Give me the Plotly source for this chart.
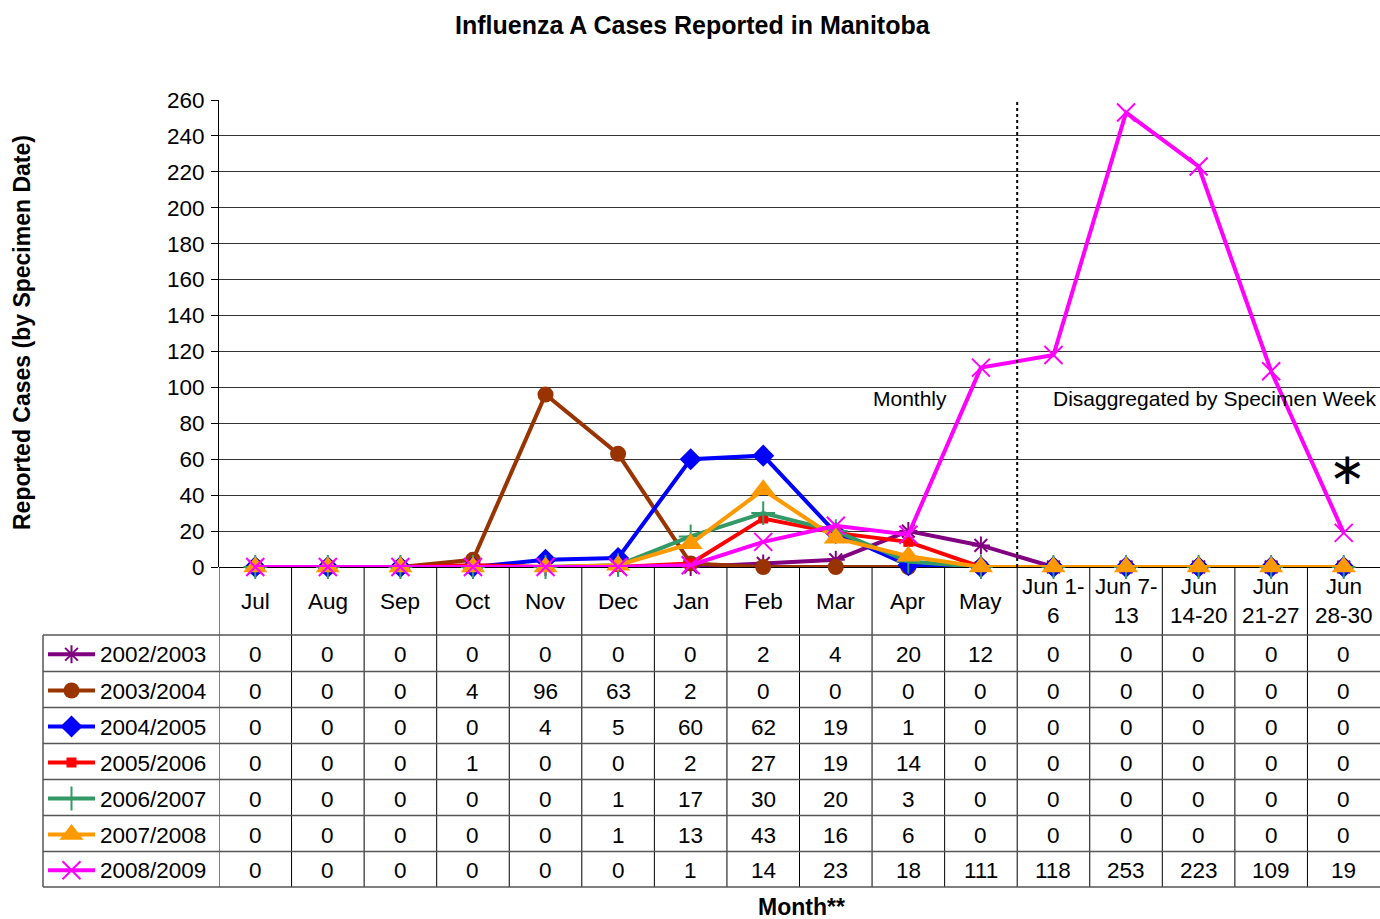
import plotly.graph_objects as go

W, H = 1380, 919

categories = ["Jul", "Aug", "Sep", "Oct", "Nov", "Dec", "Jan", "Feb", "Mar", "Apr", "May",
              "Jun 1-<br>6", "Jun 7-<br>13", "Jun<br>14-20", "Jun<br>21-27", "Jun<br>28-30"]

season_names = ["2002/2003", "2003/2004", "2004/2005", "2005/2006", "2006/2007", "2007/2008", "2008/2009"]

s2002 = [0, 0, 0, 0, 0, 0, 0, 2, 4, 20, 12, 0, 0, 0, 0, 0]
s2003 = [0, 0, 0, 4, 96, 63, 2, 0, 0, 0, 0, 0, 0, 0, 0, 0]
s2004 = [0, 0, 0, 0, 4, 5, 60, 62, 19, 1, 0, 0, 0, 0, 0, 0]
s2005 = [0, 0, 0, 1, 0, 0, 2, 27, 19, 14, 0, 0, 0, 0, 0, 0]
s2006 = [0, 0, 0, 0, 0, 1, 17, 30, 20, 3, 0, 0, 0, 0, 0, 0]
s2007 = [0, 0, 0, 0, 0, 1, 13, 43, 16, 6, 0, 0, 0, 0, 0, 0]
s2008 = [0, 0, 0, 0, 0, 0, 1, 14, 23, 18, 111, 118, 253, 223, 109, 19]

series = [s2002, s2003, s2004, s2005, s2006, s2007, s2008]

y_ticks = list(range(0, 261, 20))

styles = [
    dict(color="#800080", symbol="asterisk-open", size=15, lw=2),
    dict(color="#993300", symbol="circle", size=16, lw=0),
    dict(color="#0000FF", symbol="diamond", size=17, lw=0),
    dict(color="#FF0000", symbol="square", size=10, lw=0),
    dict(color="#339966", symbol="cross-thin-open", size=17, lw=2),
    dict(color="#FF9900", symbol="triangle-up", size=21, lw=0),
    dict(color="#FF00FF", symbol="x-thin-open", size=18, lw=2),
]

FONT = "Liberation Sans, Arial, sans-serif"
FS = 22.5


def py(pix):
    return (H - pix) / H


def px(pix):
    return pix / W


PLOT_L, PLOT_R, PLOT_T, PLOT_B = 219, 1380, 100, 567
TABLE_L = 43
ROW_LINES = [635, 671.5, 707.5, 743.5, 779.5, 815.5, 851.5, 887]

n = len(categories)
xs = list(range(n))

fig = go.Figure()

for name, vals, st in zip(season_names, series, styles):
    fig.add_trace(go.Scatter(
        x=xs, y=vals, mode="lines+markers", name=name,
        line=dict(color=st["color"], width=4),
        marker=dict(symbol=st["symbol"], size=st["size"], color=st["color"],
                    line=dict(color=st["color"], width=st["lw"])),
        showlegend=False, cliponaxis=False,
    ))

# legend keys in the table's label column (helper axis in pixel units of that column)
for i, (name, st) in enumerate(zip(season_names, styles)):
    yc = (ROW_LINES[i] + ROW_LINES[i + 1]) / 2 + 1
    fig.add_trace(go.Scatter(
        x=[48, 71.5, 95], y=[yc, yc, yc], mode="lines",
        line=dict(color=st["color"], width=4),
        xaxis="x2", yaxis="y2", showlegend=False, hoverinfo="skip", cliponaxis=False,
    ))
    fig.add_trace(go.Scatter(
        x=[71.5], y=[yc], mode="markers",
        marker=dict(symbol=st["symbol"], size=st["size"], color=st["color"],
                    line=dict(color=st["color"], width=st["lw"])),
        xaxis="x2", yaxis="y2", showlegend=False, hoverinfo="skip", cliponaxis=False,
    ))

shapes = []
annotations = []

# dotted separator between monthly and weekly data
shapes.append(dict(type="line", xref="x", yref="y", x0=10.5, x1=10.5, y0=0, y1=260,
                   line=dict(color="black", width=2, dash="dot")))

# table vertical lines
for k in range(n):
    shapes.append(dict(type="line", xref="x", yref="paper", x0=k - 0.5, x1=k - 0.5,
                       y0=py(PLOT_B), y1=py(ROW_LINES[-1]), line=dict(color="black", width=1)))
shapes.append(dict(type="line", xref="paper", yref="paper", x0=px(TABLE_L), x1=px(TABLE_L),
                   y0=py(ROW_LINES[0]), y1=py(ROW_LINES[-1]), line=dict(color="black", width=1)))
# table horizontal lines
for r in ROW_LINES:
    shapes.append(dict(type="line", xref="paper", yref="paper", x0=px(TABLE_L), x1=1,
                       y0=py(r), y1=py(r), line=dict(color="#555555", width=1.5)))

# header labels
for i, c in enumerate(categories):
    annotations.append(dict(xref="x", yref="paper", x=i, y=py(601), text=c, showarrow=False,
                            font=dict(family=FONT, size=FS, color="black"),
                            xanchor="center", yanchor="middle"))

# table cells and row labels
for r, (name, vals) in enumerate(zip(season_names, series)):
    yc = (ROW_LINES[r] + ROW_LINES[r + 1]) / 2 + 1.5
    annotations.append(dict(xref="paper", yref="paper", x=px(98), y=py(yc), text=name,
                            showarrow=False, font=dict(family=FONT, size=FS, color="black"),
                            xanchor="left", yanchor="middle"))
    for i, v in enumerate(vals):
        annotations.append(dict(xref="x", yref="paper", x=i, y=py(yc), text=str(v),
                                showarrow=False, font=dict(family=FONT, size=FS, color="black"),
                                xanchor="center", yanchor="middle"))

# titles
annotations.append(dict(xref="paper", yref="paper", x=px(693), y=py(25),
                        text="<b>Influenza A Cases Reported in Manitoba</b>", showarrow=False,
                        font=dict(family=FONT, size=25, color="black"),
                        xanchor="center", yanchor="middle"))
annotations.append(dict(xref="paper", yref="paper", x=px(22), y=py(333),
                        text="<b>Reported Cases (by Specimen Date)</b>", showarrow=False,
                        textangle=-90, font=dict(family=FONT, size=23, color="black"),
                        xanchor="center", yanchor="middle"))
annotations.append(dict(xref="paper", yref="paper", x=px(801), y=py(907),
                        text="<b>Month**</b>", showarrow=False,
                        font=dict(family=FONT, size=23, color="black"),
                        xanchor="center", yanchor="middle"))

# in-plot notes
annotations.append(dict(xref="paper", yref="paper", x=px(949), y=py(398), text="Monthly",
                        showarrow=False, font=dict(family=FONT, size=21, color="black"),
                        xanchor="right", yanchor="middle"))
annotations.append(dict(xref="paper", yref="paper", x=px(1051), y=py(398),
                        text="Disaggregated by Specimen Week",
                        showarrow=False, font=dict(family=FONT, size=21, color="black"),
                        xanchor="left", yanchor="middle"))
annotations.append(dict(xref="x", yref="paper", x=15.05, y=py(468), text="∗",
                        showarrow=False, font=dict(family="DejaVu Sans", size=44, color="black"),
                        xanchor="center", yanchor="middle"))

fig.update_layout(
    template="none",
    width=W, height=H, autosize=False,
    margin=dict(l=0, r=0, t=0, b=0, pad=0, autoexpand=False),
    paper_bgcolor="white", plot_bgcolor="rgba(0,0,0,0)",
    shapes=shapes, annotations=annotations,
    xaxis=dict(domain=[px(PLOT_L), px(PLOT_R)], range=[-0.5, n - 0.5],
               showticklabels=False, ticks="", showgrid=False, zeroline=False,
               showline=False, fixedrange=True, automargin=False),
    yaxis=dict(domain=[py(PLOT_B), py(PLOT_T)], range=[0, 260], tickvals=y_ticks,
               ticks="outside", ticklen=7, tickcolor="black", tickwidth=1,
               showline=True, linecolor="black", linewidth=1,
               showgrid=True, gridcolor="#333333", gridwidth=1,
               zeroline=True, zerolinecolor="black", zerolinewidth=1, automargin=False,
               ticklabelstandoff=2,
               tickfont=dict(family=FONT, size=FS, color="black"), fixedrange=True),
    xaxis2=dict(domain=[px(TABLE_L), px(PLOT_L)], range=[TABLE_L, PLOT_L], visible=False,
                fixedrange=True, anchor="y2", automargin=False),
    yaxis2=dict(domain=[py(ROW_LINES[-1]), py(ROW_LINES[0])], range=[ROW_LINES[-1], ROW_LINES[0]],
                visible=False, fixedrange=True, anchor="x2", automargin=False),
)

fig.write_html("out.html", config={"displayModeBar": False},
               post_script="document.body.style.margin='0';")
